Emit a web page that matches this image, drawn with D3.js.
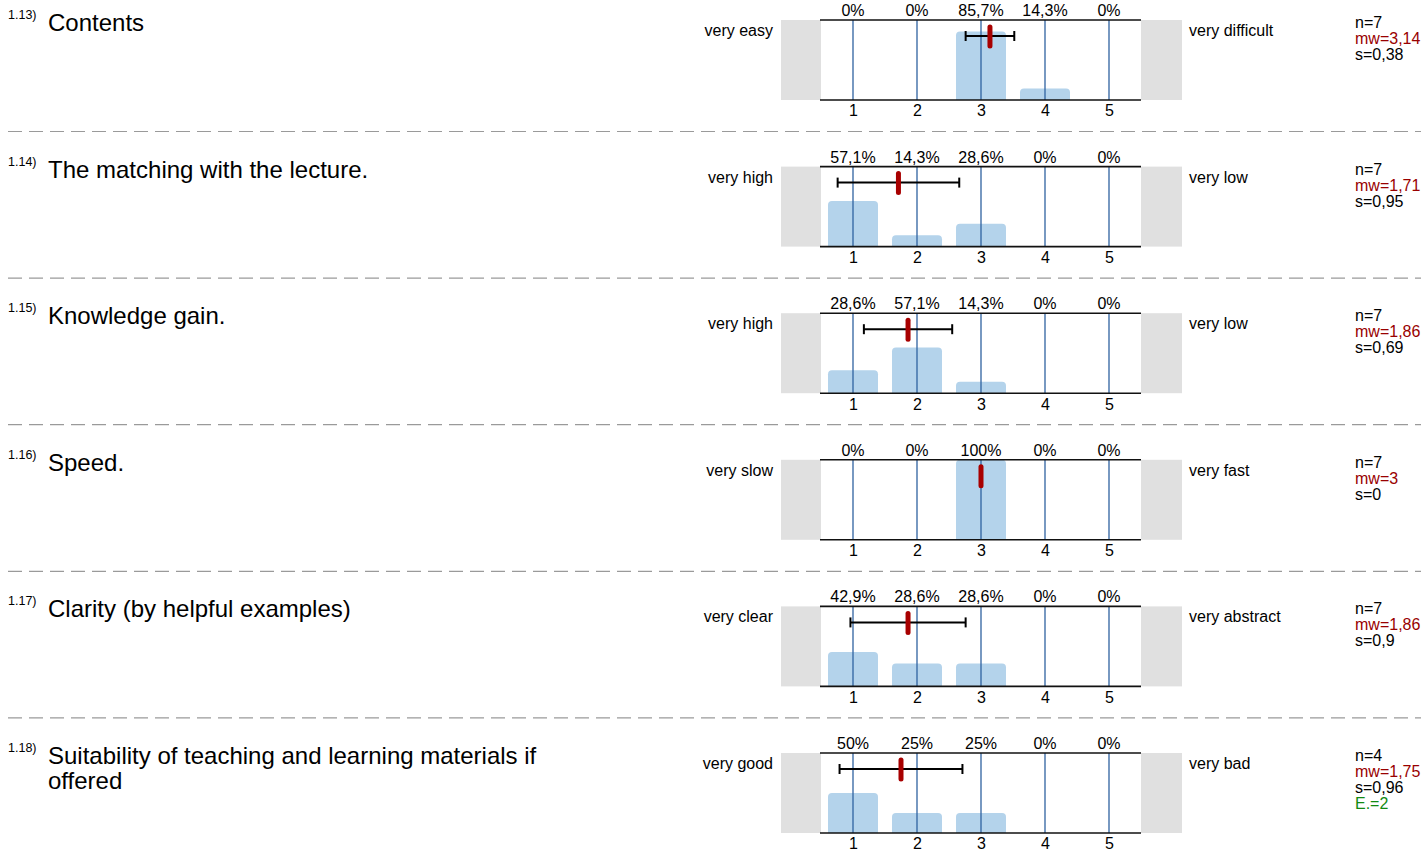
<!DOCTYPE html>
<html>
<head>
<meta charset="utf-8">
<script src="https://cdn.jsdelivr.net/npm/d3@7"></script>
<style>
  html, body { margin: 0; padding: 0; background: #fff; }
  svg { display: block; }
  svg text { font-family: "Liberation Sans", Arial, Helvetica, sans-serif; }
</style>
</head>
<body>
<svg id="chart" width="1421" height="850"></svg>
<script>
// ---- data ----
const questionIds = ["1.13)", "1.14)", "1.15)", "1.16)", "1.17)", "1.18)"];
const questionTitles = [
  ["Contents"],
  ["The matching with the lecture."],
  ["Knowledge gain."],
  ["Speed."],
  ["Clarity (by helpful examples)"],
  ["Suitability of teaching and learning materials if", "offered"]
];
const leftLabels = ["very easy", "very high", "very high", "very slow", "very clear", "very good"];
const rightLabels = ["very difficult", "very low", "very low", "very fast", "very abstract", "very bad"];
const scaleCategories = [1, 2, 3, 4, 5];
const percentages = [
  [0, 0, 85.7, 14.3, 0],
  [57.1, 14.3, 28.6, 0, 0],
  [28.6, 57.1, 14.3, 0, 0],
  [0, 0, 100, 0, 0],
  [42.9, 28.6, 28.6, 0, 0],
  [50, 25, 25, 0, 0]
];
const nValues = [7, 7, 7, 7, 7, 4];
const meanValues = [3.14, 1.71, 1.86, 3, 1.86, 1.75];
const sdValues = [0.38, 0.95, 0.69, 0, 0.9, 0.96];
const abstentions = [null, null, null, null, null, 2];

// ---- layout ----
const svg = d3.select("#chart");
const rowStep = 146.6;
const firstTop = 20;
const plotH = 80;
const x = d3.scaleLinear().domain([0.5, 5.5]).range([821, 1141]);
const fmt = v => (Math.round(v * 100) / 100).toString().replace(".", ",");
const barW = 50, r = 4;
const FS = 16;

questionIds.forEach((id, i) => {
  const top = firstTop + i * rowStep;
  const bottom = top + plotH;
  const y = d3.scaleLinear().domain([0, 100]).range([bottom, top]);
  const g = svg.append("g");

  // title
  g.append("text").attr("x", 8).attr("y", top - 1).attr("font-size", 12.5).attr("fill", "#000").text(id);
  questionTitles[i].forEach((line, k) => {
    g.append("text").attr("x", 48).attr("y", top + 11 + k * 24.5).attr("font-size", 24).attr("fill", "#000").text(line);
  });

  // grey side boxes
  g.append("rect").attr("x", 781).attr("y", top).attr("width", 40).attr("height", plotH).attr("fill", "#e0e0e0");
  g.append("rect").attr("x", 1141).attr("y", top).attr("width", 41).attr("height", plotH).attr("fill", "#e0e0e0");

  // bars
  scaleCategories.forEach((c, j) => {
    const p = percentages[i][j];
    if (p <= 0) return;
    const x0 = x(c) - barW / 2, x1 = x(c) + barW / 2, yt = y(p);
    const rr = Math.min(r, bottom - yt);
    const path = `M${x0},${bottom} L${x0},${yt + rr} Q${x0},${yt} ${x0 + rr},${yt} L${x1 - rr},${yt} Q${x1},${yt} ${x1},${yt + rr} L${x1},${bottom} Z`;
    g.append("path").attr("d", path).attr("fill", "#b4d3eb");
  });

  // grid lines
  scaleCategories.forEach(c => {
    g.append("line").attr("x1", x(c)).attr("x2", x(c)).attr("y1", top).attr("y2", bottom)
      .attr("stroke", "#2f62a0").attr("stroke-width", 1.3);
  });

  // top and bottom axis lines
  [top, bottom].forEach(yy => {
    g.append("line").attr("x1", 820).attr("x2", 1141).attr("y1", yy).attr("y2", yy)
      .attr("stroke", "#111").attr("stroke-width", 1.6);
  });

  // bottom axis tick labels
  const axis = d3.axisBottom(x).tickValues(scaleCategories).tickFormat(d3.format("d")).tickSize(0).tickPadding(5);
  const ag = g.append("g").attr("transform", `translate(0,${bottom})`).call(axis);
  ag.select(".domain").remove();
  ag.selectAll("text").attr("font-size", FS).attr("font-family", "Liberation Sans, Arial, sans-serif").attr("fill", "#000");

  // percentage labels
  scaleCategories.forEach((c, j) => {
    g.append("text").attr("x", x(c)).attr("y", top - 4).attr("text-anchor", "middle")
      .attr("font-size", FS).attr("fill", "#000").text(fmt(percentages[i][j]) + "%");
  });

  // error bar
  const m = meanValues[i], s = sdValues[i], ey = top + 16;
  if (s > 0) {
    g.append("line").attr("x1", x(m - s)).attr("x2", x(m + s)).attr("y1", ey).attr("y2", ey)
      .attr("stroke", "#000").attr("stroke-width", 2);
    [m - s, m + s].forEach(v => {
      g.append("line").attr("x1", x(v)).attr("x2", x(v)).attr("y1", ey - 5).attr("y2", ey + 5)
        .attr("stroke", "#000").attr("stroke-width", 2);
    });
  }
  // mean marker
  g.append("line").attr("x1", x(m)).attr("x2", x(m)).attr("y1", top + 7).attr("y2", top + 26)
    .attr("stroke", "#a80000").attr("stroke-width", 5).attr("stroke-linecap", "round");

  // side labels
  g.append("text").attr("x", 773).attr("y", top + 16).attr("text-anchor", "end")
    .attr("font-size", FS).attr("fill", "#000").text(leftLabels[i]);
  g.append("text").attr("x", 1189).attr("y", top + 16)
    .attr("font-size", FS).attr("fill", "#000").text(rightLabels[i]);

  // stats
  const st = [
    { t: "n=" + nValues[i], c: "#000" },
    { t: "mw=" + fmt(m), c: "#990000" },
    { t: "s=" + fmt(s), c: "#000" }
  ];
  if (abstentions[i] != null) st.push({ t: "E.=" + abstentions[i], c: "#128a12" });
  st.forEach((d, k) => {
    g.append("text").attr("x", 1355).attr("y", top + 8 + k * 16)
      .attr("font-size", FS).attr("fill", d.c).text(d.t);
  });

  // dashed separator
  if (i < questionIds.length - 1) {
    g.append("line").attr("x1", 8).attr("x2", 1421).attr("y1", top + 111.5).attr("y2", top + 111.5)
      .attr("stroke", "#9a9a9a").attr("stroke-width", 1.2).attr("stroke-dasharray", "14,7");
  }
});
</script>
</body>
</html>
